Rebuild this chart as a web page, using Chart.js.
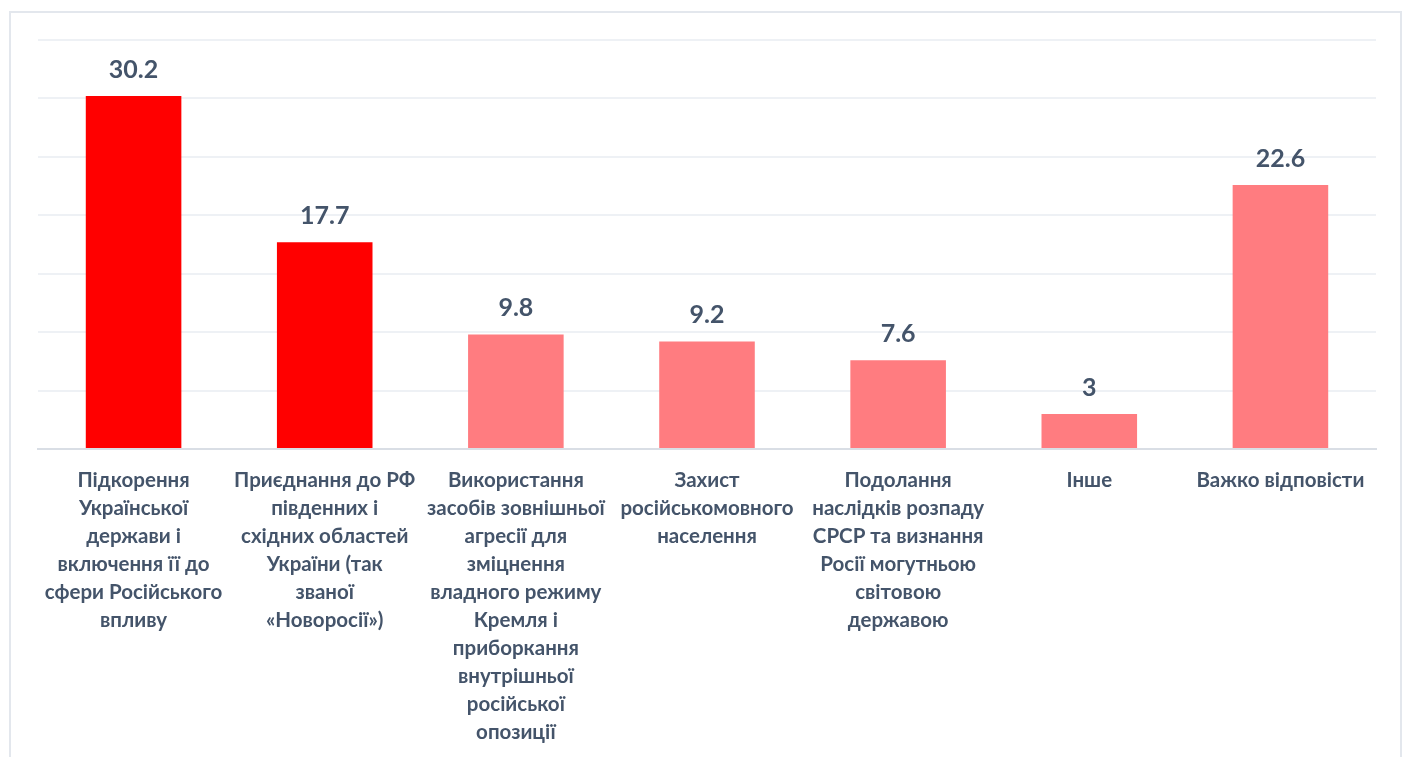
<!DOCTYPE html>
<html>
<head>
<meta charset="utf-8">
<script src="https://cdn.jsdelivr.net/npm/chart.js@4/dist/chart.umd.min.js"></script>
<style>
html,body{margin:0;padding:0;background:#fff;width:1411px;height:757px;overflow:hidden;}
#frame{position:absolute;left:9px;top:11px;width:1393px;height:760px;border:2px solid #e3e7ed;border-bottom:none;box-sizing:border-box;}
#wrap{position:absolute;left:0;top:0;width:1411px;height:757px;}
</style>
</head>
<body>
<div id="frame"></div>
<div id="wrap"><canvas id="c" width="1411" height="757"></canvas></div>
<script>
const categories = [
  ["Підкорення", "Української", "держави і", "включення її до", "сфери Російського", "впливу"],
  ["Приєднання до РФ", "південних і", "східних областей", "України (так", "званої", "«Новоросії»)"],
  ["Використання", "засобів зовнішньої", "агресії для", "зміцнення", "владного режиму", "Кремля і", "приборкання", "внутрішньої", "російської", "опозиції"],
  ["Захист", "російськомовного", "населення"],
  ["Подолання", "наслідків розпаду", "СРСР та визнання", "Росії могутньою", "світовою", "державою"],
  ["Інше"],
  ["Важко відповісти"]
];
const values = [30.2, 17.7, 9.8, 9.2, 7.6, 3, 22.6];
const barColors = ["#ff0000", "#ff0000", "#ff7c80", "#ff7c80", "#ff7c80", "#ff7c80", "#ff7c80"];

const textColor = "#44546a";
const fontFamily = "Lato, 'Open Sans', sans-serif";

const valueLabels = {
  id: 'valueLabels',
  afterDatasetsDraw(chart) {
    const ctx = chart.ctx;
    const meta = chart.getDatasetMeta(0);
    ctx.save();
    ctx.fillStyle = textColor;
    ctx.font = "bold 25px " + fontFamily;
    ctx.textAlign = "center";
    ctx.textBaseline = "alphabetic";
    meta.data.forEach((bar, i) => {
      ctx.fillText(String(values[i]), bar.x, bar.y - 18);
    });
    ctx.restore();
  }
};

new Chart(document.getElementById('c'), {
  type: 'bar',
  data: {
    labels: categories,
    datasets: [{
      data: values,
      backgroundColor: barColors,
      categoryPercentage: 1.0,
      barPercentage: 0.5
    }]
  },
  options: {
    responsive: false,
    animation: false,
    layout: { padding: { left: 38, right: 35, top: 40, bottom: 0 } },
    plugins: { legend: { display: false }, tooltip: { enabled: false } },
    scales: {
      x: {
        grid: { display: false, drawTicks: false },
        border: { display: true, color: "#d9dee5", width: 2 },
        ticks: {
          autoSkip: false, maxRotation: 0, minRotation: 0,
          color: textColor, padding: 17,
          font: { family: fontFamily, size: 20.5, weight: 'bold', lineHeight: 1.37 }
        },
        afterFit(scale) { scale.height = 308; }
      },
      y: {
        min: 0, max: 35,
        ticks: { display: false, stepSize: 5 },
        grid: { color: "#eef1f5", lineWidth: 2, drawTicks: false },
        border: { display: false },
        afterFit(scale) { scale.width = 0; }
      }
    }
  },
  plugins: [valueLabels]
});
</script>
</body>
</html>
